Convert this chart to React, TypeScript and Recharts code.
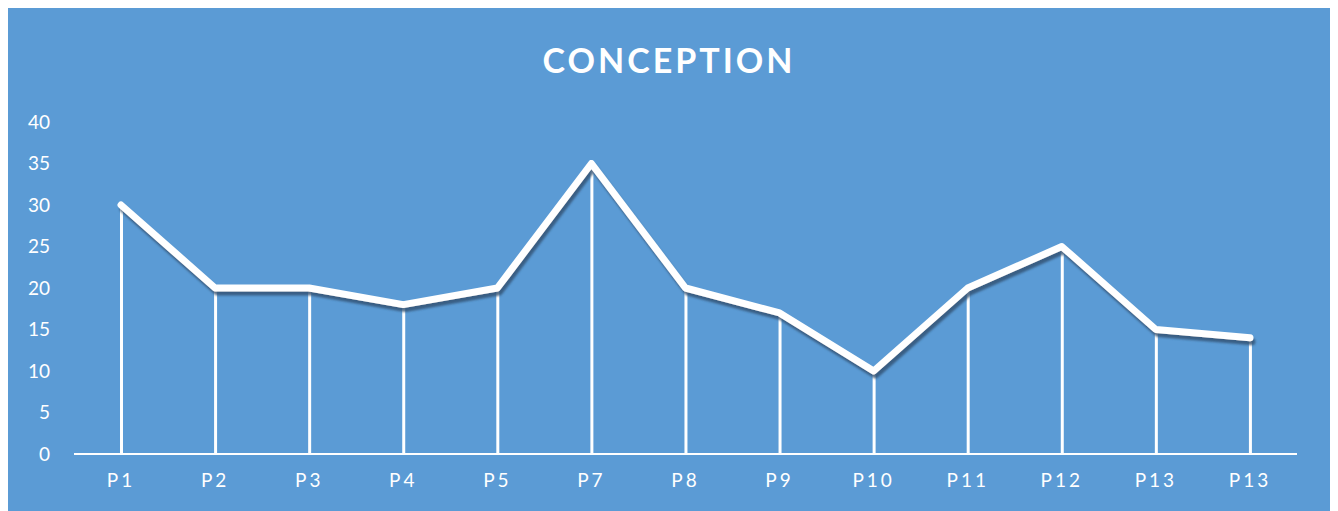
import { Bar, ComposedChart, Line, XAxis, YAxis } from "recharts"

const categories = ["P1", "P2", "P3", "P4", "P5", "P7", "P8", "P9", "P10", "P11", "P12", "P13", "P13"]
const values = [30, 20, 20, 18, 20, 35, 20, 17, 10, 20, 25, 15, 14]
const yTicks = [0, 5, 10, 15, 20, 25, 30, 35, 40]

const data = categories.map((c, i) => ({ cat: c, v: values[i] }))

const font = "Lato, 'Open Sans', sans-serif"

export default function App() {
  return (
    <div style={{ width: 1322, height: 503, background: "#5b9bd5", position: "relative", fontFamily: font }}>
      <div
        style={{
          position: "absolute",
          top: 32,
          width: "100%",
          textAlign: "center",
          color: "#fff",
          fontWeight: 700,
          fontSize: 34,
          letterSpacing: 3,
          lineHeight: "40px",
        }}
      >
        CONCEPTION
      </div>
      <ComposedChart width={1322} height={503} data={data} margin={{ top: 114, right: 33, bottom: 0, left: 0 }}>
        <defs>
          <filter id="shadow" x="-5%" y="-5%" width="110%" height="120%">
            <feDropShadow dx="2" dy="4" stdDeviation="0.8" floodColor="#2d4f70" floodOpacity="0.8" />
          </filter>
        </defs>
        <XAxis
          dataKey="cat"
          height={57}
          stroke="#fff"
          strokeWidth={2}
          tickLine={false}
          tickSize={0}
          tickMargin={20}
          tick={{ fill: "#fff", fontSize: 19, letterSpacing: 3, fontFamily: font }}
          interval={0}
        />
        <YAxis
          domain={[0, 40]}
          ticks={yTicks}
          width={66}
          axisLine={false}
          tickLine={false}
          tickSize={0}
          tickMargin={24}
          tick={{ fill: "#fff", fontSize: 19, fontFamily: font }}
        />
        <Bar dataKey="v" barSize={3} fill="#fff" isAnimationActive={false} />
        <Line
          dataKey="v"
          type="linear"
          stroke="#fff"
          strokeWidth={7}
          strokeLinejoin="round"
          strokeLinecap="round"
          dot={false}
          activeDot={false}
          style={{ filter: "url(#shadow)" }}
          isAnimationActive={false}
        />
      </ComposedChart>
    </div>
  )
}
